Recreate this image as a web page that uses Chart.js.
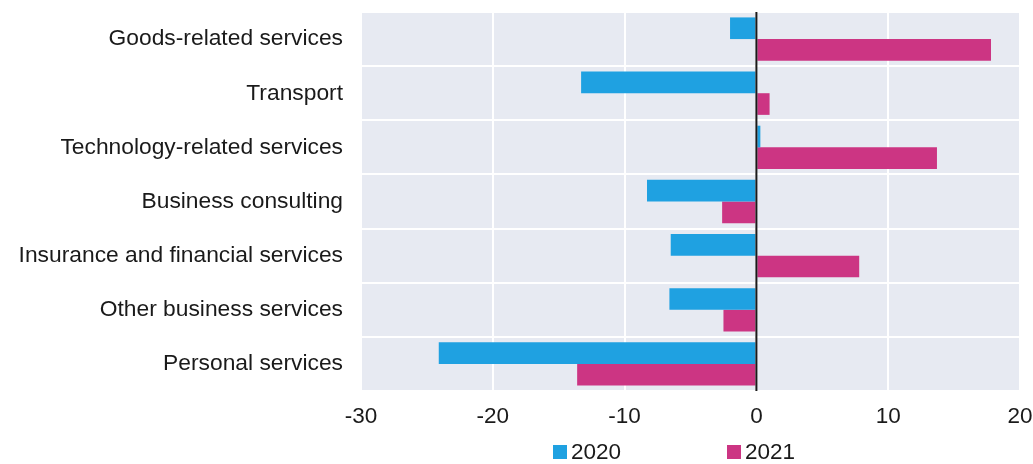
<!DOCTYPE html>
<html>
<head>
<meta charset="utf-8">
<script src="https://cdn.jsdelivr.net/npm/chart.js@4/dist/chart.umd.min.js"></script>
<style>
    body { margin: 0; background: #fff; font-family: "Liberation Sans", Arial, sans-serif; }
    #wrap { position: relative; width: 1033px; height: 443px; }
    #legend { position: absolute; left: 553px; top: 439px; display: flex; font-size: 22.5px; color: #1a1a1a; }
    .item { display: flex; align-items: center; margin-right: 106px; }
    .box { width: 14px; height: 14px; margin-right: 4px; }
</style>
</head>
<body>
<div id="wrap"><canvas id="myChart"></canvas></div>
<div id="legend"></div>
<script>
// 카테고리 / 시리즈
const categories = ["Goods-related services", "Transport", "Technology-related services", "Business consulting",
    "Insurance and financial services", "Other business services", "Personal services"];
const values2020 = [-2.0, -13.3, 0.3, -8.3, -6.5, -6.6, -24.1];
const values2021 = [17.8, 1.0, 13.7, -2.6, 7.8, -2.5, -13.6];
const seriesNames = ["2020", "2021"];
const seriesColors = ["#1FA1E1", "#CC3583"];
const xTicks = [-30, -20, -10, 0, 10, 20];

const bgPlugin = { // 플롯 영역 배경 + 0 선
    id: "bgPlugin",
    beforeDraw(chart){
        const a = chart.chartArea, c = chart.ctx;
        c.save();
        c.fillStyle = "#E7EAF2";
        c.fillRect(a.left, a.top, a.right - a.left, a.bottom - a.top);
        c.restore();
    },
    afterDatasetsDraw(chart){
        const a = chart.chartArea, c = chart.ctx;
        const x = chart.scales.x.getPixelForValue(0);
        c.save();
        c.strokeStyle = "#1a1a1a";
        c.lineWidth = 2;
        c.beginPath();
        c.moveTo(x, a.top);
        c.lineTo(x, a.bottom);
        c.stroke();
        c.restore();
    }
};

drawChart();
drawLegend();

function drawChart(){
    const ctx = document.querySelector("#myChart");
    new Chart(ctx, {
        type: "bar",
        data: {
            labels: categories,
            datasets: [
                { label: seriesNames[0], data: values2020, backgroundColor: seriesColors[0] },
                { label: seriesNames[1], data: values2021, backgroundColor: seriesColors[1] }
            ]
        },
        options: {
            indexAxis: "y",
            responsive: true,
            maintainAspectRatio: false,
            animation: false,
            categoryPercentage: 0.8,
            barPercentage: 1.0,
            layout: { padding: { top: 12, right: 13, left: 0, bottom: 1 } },
            plugins: { legend: { display: false }, tooltip: { enabled: false } },
            scales: {
                x: {
                    min: -30, max: 20,
                    afterBuildTicks(scale){ scale.ticks = xTicks.map(v => ({ value: v })); },
                    afterFit(scale){ scale.paddingLeft = 0; scale.paddingRight = 0; },
                    grid: { color: "#ffffff", lineWidth: 2, drawTicks: false },
                    border: { display: false },
                    ticks: { padding: 12, color: "#1a1a1a", font: { size: 22.5, family: "Liberation Sans" } }
                },
                y: {
                    afterFit(scale){ scale.width = 361; scale.paddingTop = 0; scale.paddingBottom = 0; },
                    grid: { color: "#ffffff", lineWidth: 2, drawTicks: false },
                    border: { display: false },
                    ticks: { padding: 18, color: "#1a1a1a", font: { size: 22.8, family: "Liberation Sans" } }
                }
            }
        },
        plugins: [bgPlugin]
    });
}

function drawLegend(){
    const el = document.querySelector("#legend");
    seriesNames.forEach((name, i) => {
        const item = document.createElement("div");
        item.className = "item";
        item.innerHTML = '<span class="box" style="background:' + seriesColors[i] + '"></span>' + name;
        el.appendChild(item);
    });
}
</script>
</body>
</html>
